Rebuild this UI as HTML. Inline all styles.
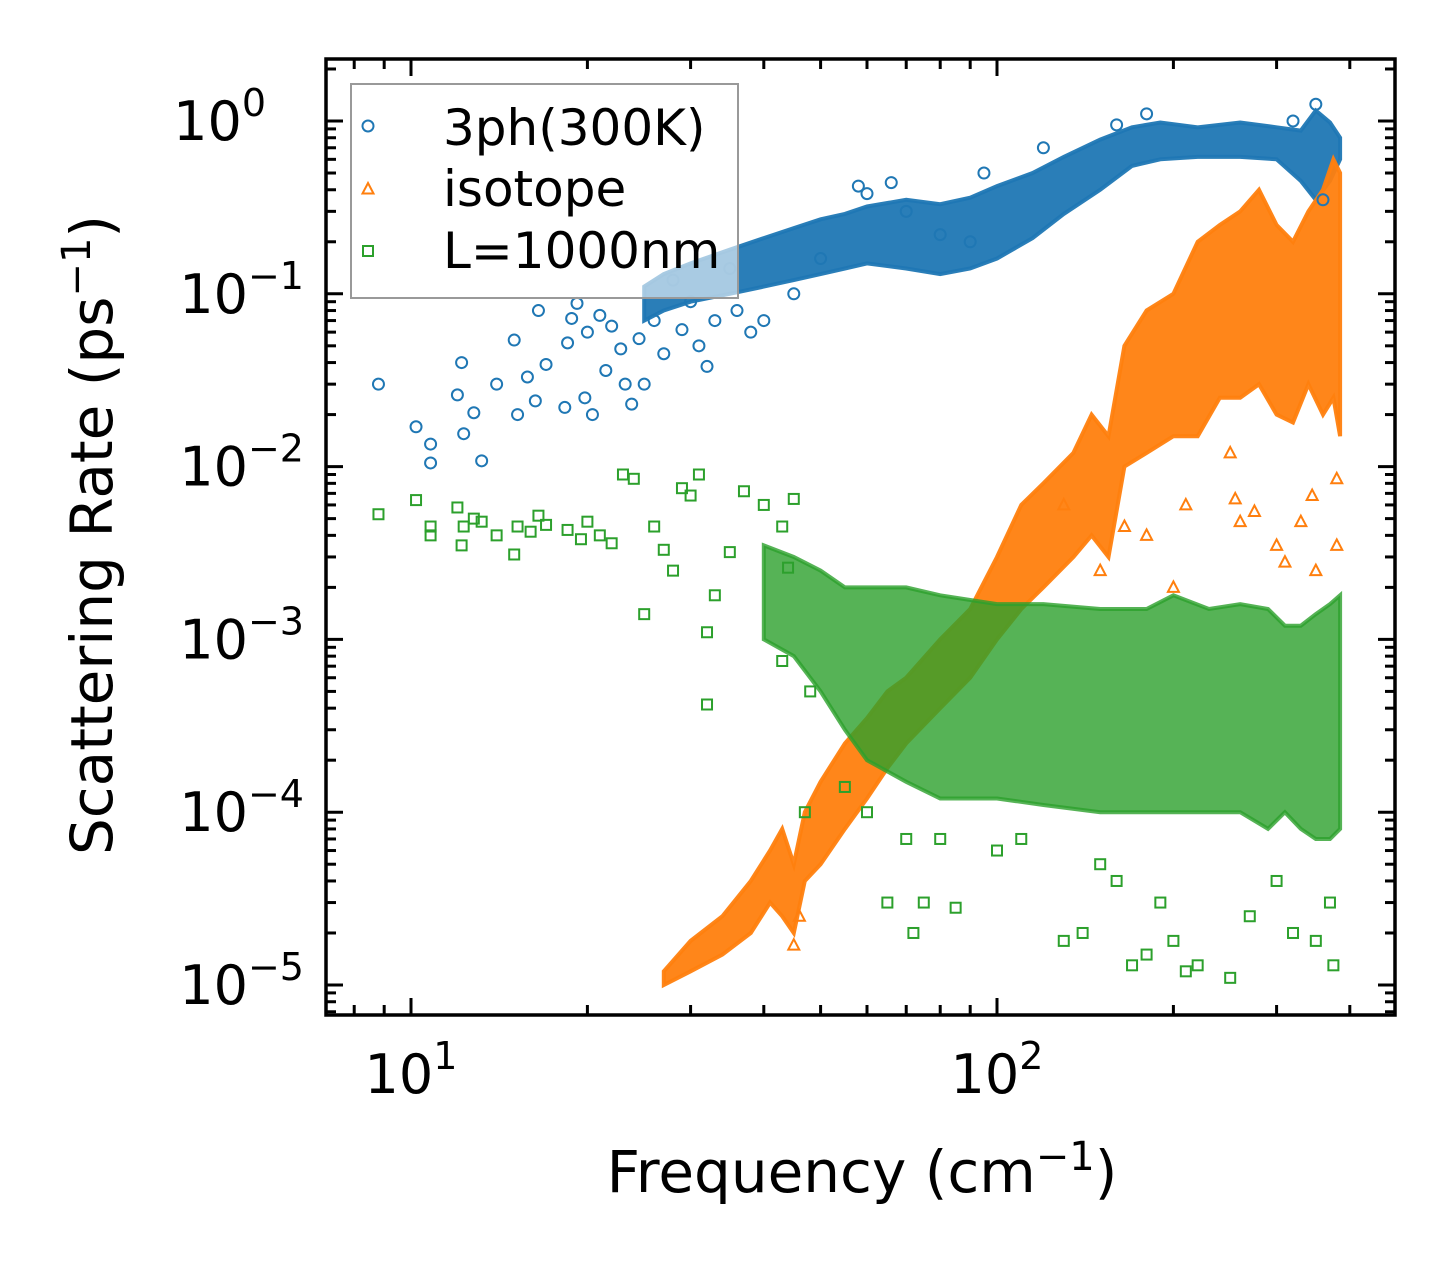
<!DOCTYPE html>
<html><head><meta charset="utf-8"><style>
html,body{margin:0;padding:0;background:#fff;}
svg{display:block;font-family:"DejaVu Sans","Liberation Sans",sans-serif;}
</style></head><body>
<svg id="chart" width="1455" height="1265" viewBox="0 0 1455 1265" xmlns="http://www.w3.org/2000/svg">
<rect x="0" y="0" width="1455" height="1265" fill="#fff"/>
<g id="bands"></g>
<g id="points"></g>
<g id="ticks"></g>
<rect x="326" y="59" width="1069" height="956" fill="none" stroke="#000" stroke-width="3.5"/>
<g>
<rect x="351" y="84" width="387" height="214" fill="#fff" fill-opacity="0.6" stroke="#999" stroke-width="2"/>
<g id="legendmarks"></g>
<text x="443" y="145" font-size="50">3ph(300K)</text>
<text x="443" y="206" font-size="50">isotope</text>
<text x="443" y="268" font-size="50">L=1000nm</text>
</g>
<text x="862" y="1192" font-size="58" text-anchor="middle">Frequency (cm<tspan dy="-22" font-size="40">−1</tspan><tspan dy="22">)</tspan></text>
<text transform="translate(112,535) rotate(-90)" font-size="58" text-anchor="middle">Scattering Rate (ps<tspan dy="-22" font-size="40">−1</tspan><tspan dy="22">)</tspan></text>
</svg>
<script>
const blueBandF=[25,27,30,35,40,45,50,55,60,70,80,90,100,115,130,150,170,190,220,260,300,330,350,370,385];
const blueBandLo=[0.07,0.08,0.09,0.10,0.11,0.12,0.13,0.14,0.15,0.14,0.13,0.14,0.16,0.21,0.29,0.40,0.55,0.60,0.62,0.62,0.60,0.45,0.35,0.45,0.6];
const blueBandHi=[0.11,0.13,0.15,0.18,0.21,0.24,0.27,0.29,0.32,0.35,0.33,0.36,0.42,0.50,0.62,0.78,0.92,0.98,0.92,0.98,0.92,0.88,1.15,0.98,0.8];
const orangeBandF=[27,30,34,38,41,43,45,47,50,55,60,65,70,80,90,100,110,120,135,145,155,165,180,200,220,240,260,280,300,320,340,360,375,385];
const orangeBandLo=[1e-5,1.2e-5,1.5e-5,2e-5,3e-5,2.5e-5,2e-5,4e-5,5e-5,8e-5,1.2e-4,1.8e-4,2.5e-4,4e-4,6e-4,1e-3,1.5e-3,2e-3,3e-3,4e-3,3e-3,1e-2,1.2e-2,1.5e-2,1.5e-2,2.5e-2,2.5e-2,3e-2,2e-2,1.8e-2,3e-2,2e-2,2.5e-2,1.5e-2];
const orangeBandHi=[1.2e-5,1.8e-5,2.5e-5,4e-5,6e-5,8e-5,5e-5,1e-4,1.5e-4,2.5e-4,3.5e-4,5e-4,6e-4,1e-3,1.5e-3,3e-3,6e-3,8e-3,1.2e-2,2e-2,1.5e-2,5e-2,8e-2,1e-1,2e-1,2.5e-1,3e-1,4e-1,2.5e-1,2e-1,3e-1,4e-1,6e-1,5e-1];
const greenBandF=[40,45,50,55,60,70,80,100,120,150,180,200,230,260,290,310,330,350,370,385];
const greenBandLo=[1e-3,8e-4,5e-4,3e-4,2e-4,1.5e-4,1.2e-4,1.2e-4,1.1e-4,1e-4,1e-4,1e-4,1e-4,1e-4,8e-5,1e-4,8e-5,7e-5,7e-5,8e-5];
const greenBandHi=[3.5e-3,3e-3,2.5e-3,2e-3,2e-3,2e-3,1.8e-3,1.6e-3,1.6e-3,1.5e-3,1.5e-3,1.8e-3,1.5e-3,1.6e-3,1.5e-3,1.2e-3,1.2e-3,1.4e-3,1.6e-3,1.8e-3];
const bluePtsF=[8.8,10.2,10.8,10.8,12,12.2,12.3,12.8,13.2,14,15,15.2,15.8,16.3,16.5,17,18.3,18.5,18.8,19.2,19.8,20,20.4,21,21.5,22,22.8,23.2,23.8,24.5,25,26,27,28,29,30,31,32,33,35,36,38,40,45,50,58,60,66,70,80,90,95,120,160,180,320,350,360];
const bluePtsY=[0.030,0.017,0.0105,0.0135,0.026,0.040,0.0155,0.0205,0.0108,0.030,0.054,0.020,0.033,0.024,0.080,0.039,0.022,0.052,0.072,0.088,0.025,0.060,0.020,0.075,0.036,0.065,0.048,0.030,0.023,0.055,0.03,0.070,0.045,0.12,0.062,0.09,0.05,0.038,0.07,0.14,0.08,0.06,0.07,0.1,0.16,0.42,0.38,0.44,0.30,0.22,0.2,0.5,0.7,0.95,1.1,1.0,1.25,0.35];
const orangePtsF=[250,255,260,275,300,310,330,350,380,380,345,165,200,210,45,46,150,130,180];
const orangePtsY=[0.012,0.0065,0.0048,0.0055,0.0035,0.0028,0.0048,0.0025,0.0035,0.0085,0.0068,0.0045,0.002,0.006,1.7e-5,2.5e-5,0.0025,0.006,0.004];
const greenPtsF=[8.8,10.2,10.8,10.8,12,12.2,12.3,12.8,13.2,14,15,15.2,16,16.5,17,18.5,19.5,20,21,22,23,24,25,26,27,28,29,30,31,32,33,32,35,37,40,43,45,44,43,48,47,55,60,70,80,65,75,72,85,100,110,130,140,150,170,180,200,210,220,250,270,300,320,350,375,370,160,190];
const greenPtsY=[0.0053,0.0064,0.0045,0.004,0.0058,0.0035,0.0045,0.005,0.0048,0.004,0.0031,0.0045,0.0042,0.0052,0.0046,0.0043,0.0038,0.0048,0.004,0.0036,0.009,0.0085,0.0014,0.0045,0.0033,0.0025,0.0075,0.0068,0.009,0.0011,0.0018,0.00042,0.0032,0.0072,0.006,0.0045,0.0065,0.0026,0.00075,0.0005,0.0001,0.00014,0.0001,0.00007,0.00007,3e-5,3e-5,2e-5,2.8e-5,6e-5,7e-5,1.8e-5,2e-5,5e-5,1.3e-5,1.5e-5,1.8e-5,1.2e-5,1.3e-5,1.1e-5,2.5e-5,4e-5,2e-5,1.8e-5,1.3e-5,3e-5,4e-5,3e-5];
const xTickVals=[10,100];
const xTickLabels=["1","2"];
const yTickExps=[0,-1,-2,-3,-4,-5];

const NS="http://www.w3.org/2000/svg";
const X0=411,XD=586,Y0=121,YD=172.8;
function xs(v){return X0+(Math.log10(v)-1)*XD;}
function ys(v){return Y0-Math.log10(v)*YD;}
function mk(tag,attrs,parent){const e=document.createElementNS(NS,tag);for(const k in attrs)e.setAttribute(k,attrs[k]);parent.appendChild(e);return e;}
const C={blue:"#1f77b4",orange:"#ff7f0e",green:"#2ca02c"};
const bands=document.getElementById('bands'),pts=document.getElementById('points'),tk=document.getElementById('ticks');
function band(F,L,H,col,name,op){
  let d="";
  for(let i=0;i<F.length;i++)d+=(i?"L":"M")+xs(F[i]).toFixed(1)+","+ys(H[i]).toFixed(1);
  for(let i=F.length-1;i>=0;i--)d+="L"+xs(F[i]).toFixed(1)+","+ys(L[i]).toFixed(1);
  const p=mk('path',{d:d+"Z",fill:col,'fill-opacity':op,stroke:col,'stroke-width':4,'stroke-opacity':op},bands);
  
  
}
function marker(kind,x,y,col,parent){
  let e;
  if(kind==='o')e=mk('circle',{cx:x,cy:y,r:5.5,fill:'none',stroke:col,'stroke-width':2},parent);
  else if(kind==='^')e=mk('path',{d:`M${x},${y-6}L${x+5.5},${y+4.5}L${x-5.5},${y+4.5}Z`,fill:'none',stroke:col,'stroke-width':2},parent);
  else e=mk('rect',{x:x-5,y:y-5,width:10,height:10,fill:'none',stroke:col,'stroke-width':2},parent);
  return e;
}
function scatter(F,Y,kind,col,name){
  for(let i=0;i<F.length;i++){
    const e=marker(kind,xs(F[i]),ys(Y[i]),col,pts);
    
    
  }
}
band(blueBandF,blueBandLo,blueBandHi,C.blue,'3ph-dense-band',0.95);
scatter(bluePtsF,bluePtsY,'o',C.blue,'3ph-point');
band(orangeBandF,orangeBandLo,orangeBandHi,C.orange,'isotope-dense-band',0.95);
scatter(orangePtsF,orangePtsY,'^',C.orange,'isotope-point');
band(greenBandF,greenBandLo,greenBandHi,C.green,'boundary-dense-band',0.8);
scatter(greenPtsF,greenPtsY,'s',C.green,'boundary-point');

const L=326,R=1395,T=59,B=1015;
for(let dec=0;dec<=2;dec++){for(let m=1;m<=9;m++){
  const v=m*Math.pow(10,dec);const x=xs(v);if(x<L||x>R)continue;
  const len=m===1?17:10;
  mk('line',{x1:x,y1:B,x2:x,y2:B-len,stroke:'#000','stroke-width':3},tk);
  mk('line',{x1:x,y1:T,x2:x,y2:T+len,stroke:'#000','stroke-width':3},tk);
}}
xTickVals.forEach((v,i)=>{
  const t=mk('text',{x:xs(v),y:1093,'font-size':54,'text-anchor':'middle'},tk);
  t.innerHTML=`10<tspan dy="-24" font-size="38">${xTickLabels[i]}</tspan>`;
  
  
});
for(let e=-6;e<=0;e++){for(let m=1;m<=9;m++){
  const v=m*Math.pow(10,e);const y=ys(v);if(y<T||y>B)continue;
  const len=m===1?17:10;
  mk('line',{x1:L,y1:y,x2:L+len,y2:y,stroke:'#000','stroke-width':3},tk);
  mk('line',{x1:R,y1:y,x2:R-len,y2:y,stroke:'#000','stroke-width':3},tk);
}}
yTickExps.forEach(e=>{
  const t=mk('text',{x:e===0?266:304,y:ys(Math.pow(10,e))+19,'font-size':54,'text-anchor':'end'},tk);
  t.innerHTML=e===0?`10<tspan dy="-24" font-size="38">0</tspan>`:`10<tspan dy="-24" font-size="38">−${-e}</tspan>`;
  
  
});
const lm=document.getElementById('legendmarks');
marker('o',368,126,C.blue,lm);
marker('^',368,189,C.orange,lm);
marker('s',368,251,C.green,lm);
</script>
</body></html>
